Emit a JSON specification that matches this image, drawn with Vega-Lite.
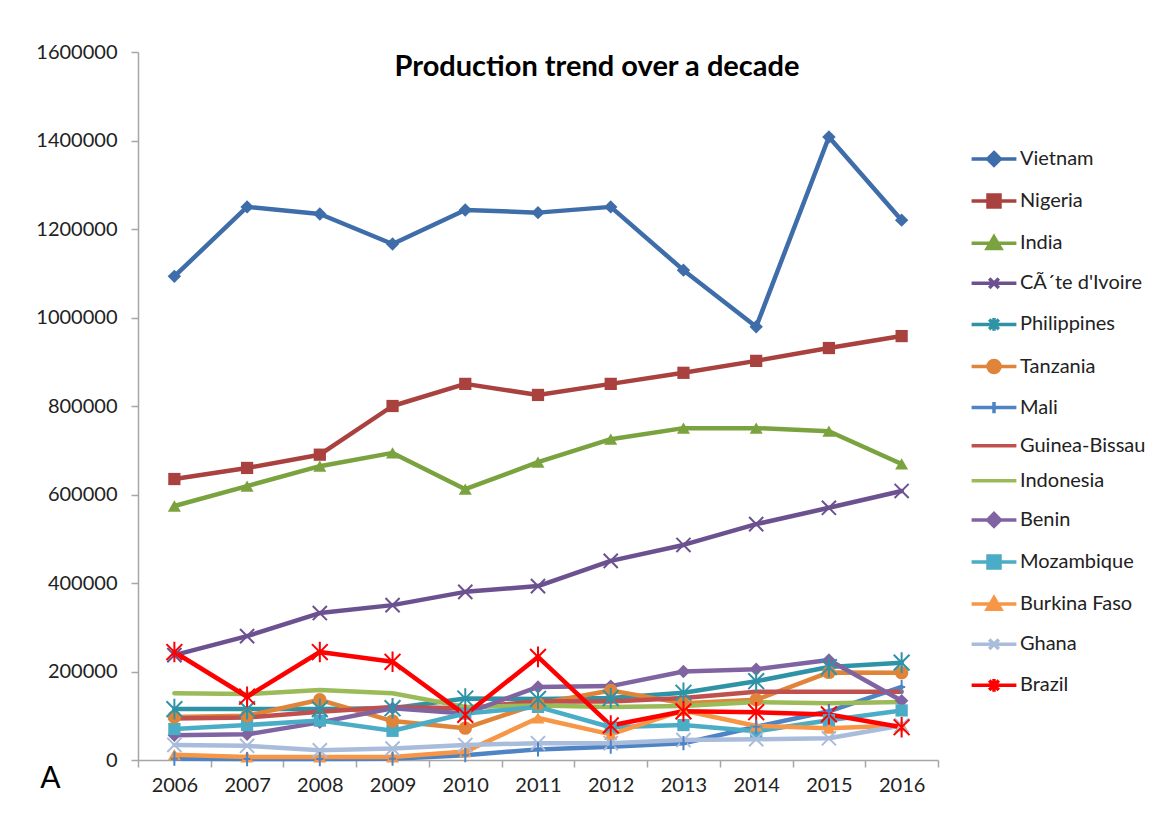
{
"$schema": "https://vega.github.io/schema/vega-lite/v6.json",
"width": 800, "height": 708,
"autosize": {"type": "none"},
"padding": {"left": 138, "top": 52, "right": 233, "bottom": 64},
"background": "white",
"config": {"view": {"stroke": null}, "font": "Lato"},
"title": {"text": "Production trend over a decade", "font": "Lato", "fontSize": 29, "fontWeight": "bold", "color": "#000000", "anchor": "middle", "dx": 59, "offset": -63, "baseline": "alphabetic"},
"datasets": {"d": [
{"country":"Vietnam","year":2006,"value":1093000},{"country":"Vietnam","year":2007,"value":1250000},{"country":"Vietnam","year":2008,"value":1234000},{"country":"Vietnam","year":2009,"value":1166000},{"country":"Vietnam","year":2010,"value":1243000},{"country":"Vietnam","year":2011,"value":1237000},{"country":"Vietnam","year":2012,"value":1250000},{"country":"Vietnam","year":2013,"value":1107000},{"country":"Vietnam","year":2014,"value":979000},{"country":"Vietnam","year":2015,"value":1408000},{"country":"Vietnam","year":2016,"value":1220000},
{"country":"Nigeria","year":2006,"value":635000},{"country":"Nigeria","year":2007,"value":660000},{"country":"Nigeria","year":2008,"value":690000},{"country":"Nigeria","year":2009,"value":800000},{"country":"Nigeria","year":2010,"value":850000},{"country":"Nigeria","year":2011,"value":825000},{"country":"Nigeria","year":2012,"value":850000},{"country":"Nigeria","year":2013,"value":875000},{"country":"Nigeria","year":2014,"value":902000},{"country":"Nigeria","year":2015,"value":931000},{"country":"Nigeria","year":2016,"value":958000},
{"country":"India","year":2006,"value":574000},{"country":"India","year":2007,"value":619000},{"country":"India","year":2008,"value":664000},{"country":"India","year":2009,"value":694000},{"country":"India","year":2010,"value":612000},{"country":"India","year":2011,"value":673000},{"country":"India","year":2012,"value":725000},{"country":"India","year":2013,"value":750000},{"country":"India","year":2014,"value":750000},{"country":"India","year":2015,"value":743000},{"country":"India","year":2016,"value":669000},
{"country":"CÃ´te d'Ivoire","year":2006,"value":237000},{"country":"CÃ´te d'Ivoire","year":2007,"value":280000},{"country":"CÃ´te d'Ivoire","year":2008,"value":332000},{"country":"CÃ´te d'Ivoire","year":2009,"value":350000},{"country":"CÃ´te d'Ivoire","year":2010,"value":380000},{"country":"CÃ´te d'Ivoire","year":2011,"value":393000},{"country":"CÃ´te d'Ivoire","year":2012,"value":450000},{"country":"CÃ´te d'Ivoire","year":2013,"value":486000},{"country":"CÃ´te d'Ivoire","year":2014,"value":533000},{"country":"CÃ´te d'Ivoire","year":2015,"value":570000},{"country":"CÃ´te d'Ivoire","year":2016,"value":608000},
{"country":"Philippines","year":2006,"value":115000},{"country":"Philippines","year":2007,"value":115000},{"country":"Philippines","year":2008,"value":115000},{"country":"Philippines","year":2009,"value":117000},{"country":"Philippines","year":2010,"value":139000},{"country":"Philippines","year":2011,"value":138000},{"country":"Philippines","year":2012,"value":140000},{"country":"Philippines","year":2013,"value":152000},{"country":"Philippines","year":2014,"value":178000},{"country":"Philippines","year":2015,"value":210000},{"country":"Philippines","year":2016,"value":220000},
{"country":"Tanzania","year":2006,"value":97000},{"country":"Tanzania","year":2007,"value":100000},{"country":"Tanzania","year":2008,"value":136000},{"country":"Tanzania","year":2009,"value":88000},{"country":"Tanzania","year":2010,"value":72000},{"country":"Tanzania","year":2011,"value":127000},{"country":"Tanzania","year":2012,"value":157000},{"country":"Tanzania","year":2013,"value":128000},{"country":"Tanzania","year":2014,"value":136000},{"country":"Tanzania","year":2015,"value":198000},{"country":"Tanzania","year":2016,"value":197000},
{"country":"Mali","year":2006,"value":3000},{"country":"Mali","year":2007,"value":2000},{"country":"Mali","year":2008,"value":2000},{"country":"Mali","year":2009,"value":3000},{"country":"Mali","year":2010,"value":11000},{"country":"Mali","year":2011,"value":24000},{"country":"Mali","year":2012,"value":30000},{"country":"Mali","year":2013,"value":38000},{"country":"Mali","year":2014,"value":75000},{"country":"Mali","year":2015,"value":110000},{"country":"Mali","year":2016,"value":165000},
{"country":"Guinea-Bissau","year":2006,"value":94000},{"country":"Guinea-Bissau","year":2007,"value":96000},{"country":"Guinea-Bissau","year":2008,"value":109000},{"country":"Guinea-Bissau","year":2009,"value":120000},{"country":"Guinea-Bissau","year":2010,"value":117000},{"country":"Guinea-Bissau","year":2011,"value":133000},{"country":"Guinea-Bissau","year":2012,"value":132000},{"country":"Guinea-Bissau","year":2013,"value":140000},{"country":"Guinea-Bissau","year":2014,"value":154000},{"country":"Guinea-Bissau","year":2015,"value":154000},{"country":"Guinea-Bissau","year":2016,"value":154000},
{"country":"Indonesia","year":2006,"value":151000},{"country":"Indonesia","year":2007,"value":149000},{"country":"Indonesia","year":2008,"value":158000},{"country":"Indonesia","year":2009,"value":151000},{"country":"Indonesia","year":2010,"value":120000},{"country":"Indonesia","year":2011,"value":123000},{"country":"Indonesia","year":2012,"value":120000},{"country":"Indonesia","year":2013,"value":122000},{"country":"Indonesia","year":2014,"value":131000},{"country":"Indonesia","year":2015,"value":128000},{"country":"Indonesia","year":2016,"value":131000},
{"country":"Benin","year":2006,"value":56000},{"country":"Benin","year":2007,"value":58000},{"country":"Benin","year":2008,"value":85000},{"country":"Benin","year":2009,"value":117000},{"country":"Benin","year":2010,"value":105000},{"country":"Benin","year":2011,"value":165000},{"country":"Benin","year":2012,"value":167000},{"country":"Benin","year":2013,"value":200000},{"country":"Benin","year":2014,"value":205000},{"country":"Benin","year":2015,"value":226000},{"country":"Benin","year":2016,"value":134000},
{"country":"Mozambique","year":2006,"value":70000},{"country":"Mozambique","year":2007,"value":79000},{"country":"Mozambique","year":2008,"value":89000},{"country":"Mozambique","year":2009,"value":66000},{"country":"Mozambique","year":2010,"value":105000},{"country":"Mozambique","year":2011,"value":120000},{"country":"Mozambique","year":2012,"value":74000},{"country":"Mozambique","year":2013,"value":79000},{"country":"Mozambique","year":2014,"value":65000},{"country":"Mozambique","year":2015,"value":90000},{"country":"Mozambique","year":2016,"value":112000},
{"country":"Burkina Faso","year":2006,"value":12000},{"country":"Burkina Faso","year":2007,"value":7000},{"country":"Burkina Faso","year":2008,"value":7000},{"country":"Burkina Faso","year":2009,"value":7000},{"country":"Burkina Faso","year":2010,"value":19000},{"country":"Burkina Faso","year":2011,"value":95000},{"country":"Burkina Faso","year":2012,"value":58000},{"country":"Burkina Faso","year":2013,"value":112000},{"country":"Burkina Faso","year":2014,"value":77000},{"country":"Burkina Faso","year":2015,"value":72000},{"country":"Burkina Faso","year":2016,"value":78000},
{"country":"Ghana","year":2006,"value":34000},{"country":"Ghana","year":2007,"value":32000},{"country":"Ghana","year":2008,"value":22000},{"country":"Ghana","year":2009,"value":26000},{"country":"Ghana","year":2010,"value":34000},{"country":"Ghana","year":2011,"value":38000},{"country":"Ghana","year":2012,"value":38000},{"country":"Ghana","year":2013,"value":45000},{"country":"Ghana","year":2014,"value":47000},{"country":"Ghana","year":2015,"value":49000},{"country":"Ghana","year":2016,"value":78000},
{"country":"Brazil","year":2006,"value":244000},{"country":"Brazil","year":2007,"value":143000},{"country":"Brazil","year":2008,"value":244000},{"country":"Brazil","year":2009,"value":222000},{"country":"Brazil","year":2010,"value":102000},{"country":"Brazil","year":2011,"value":233000},{"country":"Brazil","year":2012,"value":78000},{"country":"Brazil","year":2013,"value":110000},{"country":"Brazil","year":2014,"value":108000},{"country":"Brazil","year":2015,"value":103000},{"country":"Brazil","year":2016,"value":74000}
]},
"data": {"name": "d"},
"encoding": {
  "x": {"field": "year", "type": "ordinal", "scale": {"type": "band", "paddingInner": 0, "paddingOuter": 0},
        "axis": {"title": "A", "titleFontSize": 30, "titleFont": "Lato", "titleFontWeight": "normal", "titleColor": "#000000", "titleX": -88, "titleY": 18, "titleAlign": "center", "titleBaseline": "middle",
                 "labelAngle": 0, "labelFontSize": 20, "labelFont": "Lato", "labelColor": "#222222", "labelPadding": 8, "tickBand": "extent", "tickSize": 7, "tickColor": "#A6A6A6", "tickWidth": 1.5, "domainColor": "#A6A6A6", "domainWidth": 1.5, "grid": false}},
  "y": {"field": "value", "type": "quantitative", "scale": {"domain": [0, 1600000], "nice": false},
        "axis": {"title": null, "values": [0, 200000, 400000, 600000, 800000, 1000000, 1200000, 1400000, 1600000], "format": "d", "labelFontSize": 20, "labelFont": "Lato", "labelColor": "#222222", "labelPadding": 14, "tickSize": 7, "tickColor": "#A6A6A6", "tickWidth": 1.5, "domainColor": "#A6A6A6", "domainWidth": 1.5, "grid": false}}
},
"layer": [
  {"mark": {"type": "point", "filled": true, "size": 0, "strokeWidth": 3.5, "opacity": 1},
   "encoding": {
     "fill": {"field": "country", "type": "nominal",
       "scale": {"domain": ["Vietnam","Nigeria","India","CÃ´te d'Ivoire","Philippines","Tanzania","Mali","Guinea-Bissau","Indonesia","Benin","Mozambique","Burkina Faso","Ghana","Brazil"],
                 "range": ["#3E6DAA","#A9423F","#7AA33F","#6C5190","#2F93A6","#DF8439","#4E83C4","#C0504D","#9BBB59","#8064A2","#4BACC6","#F79646","#A9BCDB","#FF0000"]},
       "legend": {"title": null, "orient": "none", "legendX": 846, "legendY": 97, "padding": 0, "symbolSize": 256, "symbolStrokeWidth": 3.5, "labelFontSize": 20, "labelFont": "Lato", "labelColor": "#222222", "labelOffset": 16, "rowPadding": 15.1, "labelLimit": 300}},
     "stroke": {"field": "country", "type": "nominal",
       "scale": {"domain": ["Vietnam","Nigeria","India","CÃ´te d'Ivoire","Philippines","Tanzania","Mali","Guinea-Bissau","Indonesia","Benin","Mozambique","Burkina Faso","Ghana","Brazil"],
                 "range": ["#3E6DAA","#A9423F","#7AA33F","#6C5190","#2F93A6","#DF8439","#4E83C4","#C0504D","#9BBB59","#8064A2","#4BACC6","#F79646","#A9BCDB","#FF0000"]},
       "legend": {"title": null, "orient": "none", "legendX": 846, "legendY": 97, "padding": 0, "symbolSize": 256, "symbolStrokeWidth": 3.5, "labelFontSize": 20, "labelFont": "Lato", "labelColor": "#222222", "labelOffset": 16, "rowPadding": 15.1, "labelLimit": 300}},
     "shape": {"field": "country", "type": "nominal",
       "scale": {"domain": ["Vietnam","Nigeria","India","CÃ´te d'Ivoire","Philippines","Tanzania","Mali","Guinea-Bissau","Indonesia","Benin","Mozambique","Burkina Faso","Ghana","Brazil"],
                 "range": ["M-2.8,0L2.8,0M0,-0.8L0.8,0L0,0.8L-0.8,0Z","M-2.8,0L2.8,0M-0.75,-0.75L0.75,-0.75L0.75,0.75L-0.75,0.75Z","M-2.8,0L2.8,0M0,-0.8L0.85,0.65L-0.85,0.65Z","M-2.8,0L2.8,0M-0.6,-0.6L0.6,0.6M0.6,-0.6L-0.6,0.6","M-2.8,0L2.8,0M-0.6,-0.6L0.6,0.6M0.6,-0.6L-0.6,0.6M0,-0.8L0,0.8","M-2.8,0L2.8,0M-0.75,0A0.75,0.75,0,1,0,0.75,0A0.75,0.75,0,1,0,-0.75,0Z","M-2.8,0L2.8,0M0,-0.7L0,0.7","M-2.8,0L2.8,0","M-2.8,0L2.8,0","M-2.8,0L2.8,0M0,-0.8L0.8,0L0,0.8L-0.8,0Z","M-2.8,0L2.8,0M-0.75,-0.75L0.75,-0.75L0.75,0.75L-0.75,0.75Z","M-2.8,0L2.8,0M0,-0.8L0.85,0.65L-0.85,0.65Z","M-2.8,0L2.8,0M-0.6,-0.6L0.6,0.6M0.6,-0.6L-0.6,0.6","M-2.8,0L2.8,0M-0.6,-0.6L0.6,0.6M0.6,-0.6L-0.6,0.6M0,-0.8L0,0.8"]},
       "legend": {"title": null, "orient": "none", "legendX": 846, "legendY": 97, "padding": 0, "symbolSize": 256, "symbolStrokeWidth": 3.5, "labelFontSize": 20, "labelFont": "Lato", "labelColor": "#222222", "labelOffset": 16, "rowPadding": 15.1, "labelLimit": 300}}}},
  {"mark": {"type": "line", "strokeWidth": 4.5, "strokeJoin": "round", "strokeCap": "round"},
   "encoding": {"color": {"field": "country", "type": "nominal", "legend": null,
      "scale": {"domain": ["Vietnam","Nigeria","India","CÃ´te d'Ivoire","Philippines","Tanzania","Mali","Guinea-Bissau","Indonesia","Benin","Mozambique","Burkina Faso","Ghana","Brazil"],
                "range": ["#3E6DAA","#A9423F","#7AA33F","#6C5190","#2F93A6","#DF8439","#4E83C4","#C0504D","#9BBB59","#8064A2","#4BACC6","#F79646","#A9BCDB","#FF0000"]}}}},
  {"transform": [{"filter": {"field": "country", "oneOf": ["Vietnam","Benin"]}}],
   "mark": {"type": "point", "shape": "diamond", "filled": true, "size": 180, "opacity": 1},
   "encoding": {"color": {"field": "country", "type": "nominal", "legend": null}}},
  {"transform": [{"filter": {"field": "country", "oneOf": ["Nigeria","Mozambique"]}}],
   "mark": {"type": "point", "shape": "square", "filled": true, "size": 150, "opacity": 1},
   "encoding": {"color": {"field": "country", "type": "nominal", "legend": null}}},
  {"transform": [{"filter": {"field": "country", "oneOf": ["India","Burkina Faso"]}}],
   "mark": {"type": "point", "shape": "triangle-up", "filled": true, "size": 170, "opacity": 1},
   "encoding": {"color": {"field": "country", "type": "nominal", "legend": null}}},
  {"transform": [{"filter": {"field": "country", "oneOf": ["Tanzania"]}}],
   "mark": {"type": "point", "shape": "circle", "filled": true, "size": 180, "opacity": 1},
   "encoding": {"color": {"field": "country", "type": "nominal", "legend": null}}},
  {"transform": [{"filter": {"field": "country", "oneOf": ["CÃ´te d'Ivoire","Ghana"]}}],
   "mark": {"type": "point", "shape": "M-1,-1L1,1M1,-1L-1,1", "filled": false, "size": 200, "strokeWidth": 2, "opacity": 1},
   "encoding": {"color": {"field": "country", "type": "nominal", "legend": null}}},
  {"transform": [{"filter": {"field": "country", "oneOf": ["Philippines","Brazil"]}}],
   "mark": {"type": "point", "shape": "M-1,-1L1,1M1,-1L-1,1M0,-1.3L0,1.3", "filled": false, "size": 250, "strokeWidth": 2, "opacity": 1},
   "encoding": {"color": {"field": "country", "type": "nominal", "legend": null}}},
  {"transform": [{"filter": {"field": "country", "oneOf": ["Mali"]}}],
   "mark": {"type": "point", "shape": "M0,-1L0,1M-0.5,0L0.5,0", "filled": false, "size": 200, "strokeWidth": 2, "opacity": 1},
   "encoding": {"color": {"field": "country", "type": "nominal", "legend": null}}}
]
}
